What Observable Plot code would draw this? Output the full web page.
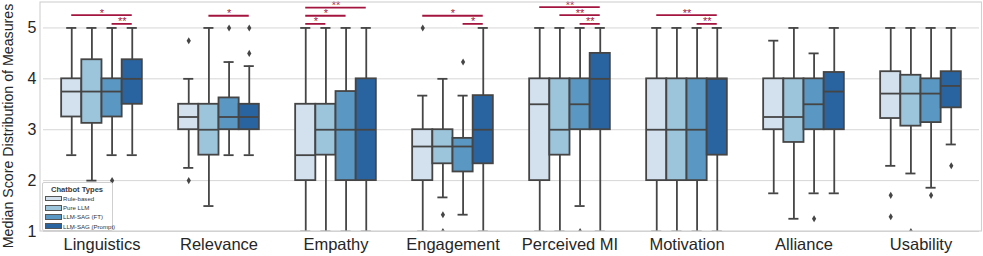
<!DOCTYPE html>
<html>
<head>
<meta charset="utf-8">
<script src="https://cdn.jsdelivr.net/npm/d3@7"></script>
<script src="https://cdn.jsdelivr.net/npm/@observablehq/plot@0.6"></script>
<style>
  html, body { margin: 0; padding: 0; background: white; overflow: hidden; }
  #chart { position: relative; width: 983px; height: 256px; font-family: 'Liberation Sans', Arial, sans-serif; }
  #legend { position: absolute; left: 41.5px; top: 181.5px; width: 71px; height: 49px; box-sizing: border-box;
    border: 1px solid #cfcfcf; border-radius: 2px; background: rgba(255,255,255,0.8); padding: 2px 2px 0 2px; }
  #legend .title { font-size: 7.6px; font-weight: bold; color: #3a3a3a; text-align: center; line-height: 9px; margin-bottom: 0.5px; }
  #legend .item { display: flex; align-items: center; height: 9.2px; }
  #legend .sw { width: 17px; height: 5.5px; box-sizing: border-box; border: 0.8px solid #555; margin-right: 1.5px; flex: none; }
  #legend .lab { font-size: 6.1px; color: #333; white-space: nowrap; }
</style>
</head>
<body>
<div id="chart"></div>
<script>
const measures = ["Linguistics", "Relevance", "Empathy", "Engagement", "Perceived MI", "Motivation", "Alliance", "Usability"];
const chatbots = ["Rule-based", "Pure LLM", "LLM-SAG (FT)", "LLM-SAG (Prompt)"];
const colors = ["#d3e1ef", "#9cc4da", "#5a97c2", "#2a64a0"];
const yTicks = [1, 2, 3, 4, 5];

// rows: measures, columns: chatbots
const whiskerLow = [
  [2.5, 2.0, 2.5, 2.5],
  [2.25, 1.5, 2.5, 2.5],
  [1, 1, 1, 1],
  [1, 1.67, 1.33, 1],
  [1, 1, 1.5, 1],
  [1, 1, 1, 1],
  [1.75, 1.25, 1.75, 1.75],
  [2.29, 2.14, 1.86, 2.71]
];
const quart1 = [
  [3.25, 3.125, 3.25, 3.5],
  [3.0, 2.5, 3.0, 3.0],
  [2.0, 2.5, 2.0, 2.0],
  [2.0, 2.33, 2.17, 2.33],
  [2.0, 2.5, 3.0, 3.0],
  [2, 2, 2, 2.5],
  [3.0, 2.75, 3.0, 3.0],
  [3.22, 3.07, 3.14, 3.43]
];
const medians = [
  [3.75, 3.75, 3.75, 4.0],
  [3.25, 3.0, 3.25, 3.25],
  [2.5, 3.0, 3.0, 3.0],
  [2.67, 2.67, 2.67, 3.0],
  [3.5, 3.0, 3.5, 4.0],
  [3, 3, 3, 4],
  [3.25, 3.25, 3.5, 3.75],
  [3.71, 3.71, 3.71, 3.86]
];
const quart3 = [
  [4.0, 4.375, 4.0, 4.375],
  [3.5, 3.5, 3.625, 3.5],
  [3.5, 3.5, 3.75, 4.0],
  [3.0, 3.0, 2.83, 3.67],
  [4.0, 4.0, 4.0, 4.5],
  [4, 4, 4, 4],
  [4.0, 4.0, 4.0, 4.125],
  [4.14, 4.07, 4.0, 4.14]
];
const whiskerHigh = [
  [5, 5, 5, 5],
  [4.0, 5, 4.33, 4.25],
  [5, 5, 5, 5],
  [3.67, 4.0, 3.67, 5],
  [5, 5, 5, 5],
  [5, 5, 5, 5],
  [4.75, 5, 4.5, 5],
  [5, 5, 5, 5]
];
// outliers: measure, chatbot, value
const outlierMeasure = ["Linguistics", "Linguistics", "Linguistics", "Relevance", "Relevance", "Relevance", "Relevance", "Relevance",
  "Engagement", "Engagement", "Engagement", "Engagement", "Perceived MI", "Alliance",
  "Usability", "Usability", "Usability", "Usability", "Usability"];
const outlierType = ["Rule-based", "Pure LLM", "LLM-SAG (FT)", "Rule-based", "Rule-based", "LLM-SAG (FT)", "LLM-SAG (Prompt)", "LLM-SAG (Prompt)",
  "Rule-based", "Pure LLM", "Pure LLM", "LLM-SAG (FT)", "LLM-SAG (FT)", "LLM-SAG (FT)",
  "Rule-based", "Rule-based", "Pure LLM", "LLM-SAG (FT)", "LLM-SAG (Prompt)"];
const outlierValue = [1, 1, 2, 4.75, 2, 5, 5, 4.5,
  5, 1.33, 1, 4.33, 1, 1.25,
  1.71, 1.29, 1, 1.71, 2.29];
// significance brackets
const sigMeasure = ["Linguistics", "Linguistics", "Relevance", "Empathy", "Empathy", "Empathy", "Engagement", "Engagement",
  "Perceived MI", "Perceived MI", "Perceived MI", "Motivation", "Motivation"];
const sigFrom = ["Rule-based", "LLM-SAG (FT)", "Pure LLM", "Rule-based", "Rule-based", "Rule-based", "Rule-based", "LLM-SAG (FT)",
  "Rule-based", "Pure LLM", "LLM-SAG (FT)", "Rule-based", "LLM-SAG (FT)"];
const sigTo = ["LLM-SAG (Prompt)", "LLM-SAG (Prompt)", "LLM-SAG (Prompt)", "LLM-SAG (Prompt)", "LLM-SAG (FT)", "Pure LLM", "LLM-SAG (Prompt)", "LLM-SAG (Prompt)",
  "LLM-SAG (Prompt)", "LLM-SAG (Prompt)", "LLM-SAG (Prompt)", "LLM-SAG (Prompt)", "LLM-SAG (Prompt)"];
const sigLevel = [5.25, 5.08, 5.24, 5.40, 5.24, 5.08, 5.24, 5.08, 5.41, 5.25, 5.08, 5.25, 5.08];
const sigLabel = ["*", "**", "*", "**", "*", "*", "*", "*", "**", "**", "**", "**", "**"];

const boxes = measures.flatMap((m, i) => chatbots.map((c, j) => ({
  measure: m, type: c, idx: j,
  lo: whiskerLow[i][j], q1: quart1[i][j], med: medians[i][j], q3: quart3[i][j], hi: whiskerHigh[i][j]
})));
const outliers = outlierValue.map((v, k) => ({measure: outlierMeasure[k], idx: chatbots.indexOf(outlierType[k]), value: v}));
const sigs = sigLevel.map((v, k) => ({measure: sigMeasure[k], a: chatbots.indexOf(sigFrom[k]), b: chatbots.indexOf(sigTo[k]), level: v, label: sigLabel[k]}));

const lineColor = "#454545";
const sigColor = "#a3153f";
const sw = 1.8;
const thinDiamond = {
  draw(context, size) {
    const h = Math.sqrt(size) * 0.62, w = h * 0.6;
    context.moveTo(0, -h); context.lineTo(w, 0); context.lineTo(0, h); context.lineTo(-w, 0); context.closePath();
  }
};

const plot = Plot.plot({
  width: 983, height: 256,
  marginLeft: 40, marginRight: 1.5, marginTop: 2, marginBottom: 25,
  style: {fontFamily: "'Liberation Sans', Arial, sans-serif", color: "#262626", background: "white", overflow: "visible"},
  fx: {domain: measures, padding: 0},
  x: {domain: [-1.4, 4.4], axis: null},
  y: {domain: [1, 5.5]},
  color: {domain: chatbots, range: colors},
  marks: [
    Plot.ruleY(yTicks, {stroke: "#d6d6d6", strokeWidth: 1}),
    Plot.ruleX(boxes, {fx: "measure", x: "idx", y1: "q3", y2: "hi", stroke: lineColor, strokeWidth: sw}),
    Plot.ruleX(boxes, {fx: "measure", x: "idx", y1: "lo", y2: "q1", stroke: lineColor, strokeWidth: sw}),
    Plot.ruleY(boxes, {fx: "measure", y: "hi", x1: d => d.idx - 0.25, x2: d => d.idx + 0.25, stroke: lineColor, strokeWidth: sw, clip: true}),
    Plot.ruleY(boxes, {fx: "measure", y: "lo", x1: d => d.idx - 0.25, x2: d => d.idx + 0.25, stroke: lineColor, strokeWidth: sw, clip: true}),
    Plot.rect(boxes, {fx: "measure", x1: d => d.idx - 0.5, x2: d => d.idx + 0.5, y1: "q1", y2: "q3", fill: "type", stroke: lineColor, strokeWidth: sw}),
    Plot.ruleY(boxes, {fx: "measure", y: "med", x1: d => d.idx - 0.5, x2: d => d.idx + 0.5, stroke: lineColor, strokeWidth: sw}),
    Plot.dot(outliers, {fx: "measure", x: "idx", y: "value", symbol: thinDiamond, r: 3.2, fill: lineColor, stroke: "none", clip: true}),
    Plot.ruleY(sigs, {fx: "measure", y: "level", x1: "a", x2: "b", stroke: sigColor, strokeWidth: 1.8}),
    Plot.text(sigs, {fx: "measure", x: d => (d.a + d.b) / 2, y: "level", text: "label", fill: sigColor, fontSize: 11, lineAnchor: "bottom", dy: 1.5}),
    Plot.axisY({ticks: yTicks, tickSize: 0, tickPadding: 7, fontSize: 16, label: null, tickFormat: d => String(d)}),
    Plot.axisFx({anchor: "bottom", tickSize: 0, tickPadding: 7, fontSize: 16.5, label: null})
  ]
});

const chart = document.getElementById("chart");
chart.appendChild(plot);

// frame (axes spines) and y-axis title, positioned from the plot's own scales
const fxS = plot.scale("fx"), yS = plot.scale("y");
const svg = d3.select(plot);
const frameLeft = fxS.range[0], frameRight = fxS.range[1];
const frameTop = Math.min(...yS.range), frameBottom = Math.max(...yS.range);
svg.append("rect")
  .attr("x", frameLeft).attr("y", frameTop).attr("width", frameRight - frameLeft).attr("height", frameBottom - frameTop)
  .attr("fill", "none").attr("stroke", "#d0d0d0").attr("stroke-width", 1.1);
svg.append("text")
  .attr("transform", `translate(13,126) rotate(-90)`)
  .attr("text-anchor", "middle")
  .attr("font-size", 14.2)
  .attr("fill", "#262626")
  .text("Median Score Distribution of Measures");

// legend
const legend = document.createElement("div");
legend.id = "legend";
legend.innerHTML = `<div class="title">Chatbot Types</div>` +
  chatbots.map((c, i) => `<div class="item"><div class="sw" style="background:${colors[i]}"></div><div class="lab">${c}</div></div>`).join("");
chart.appendChild(legend);
</script>
</body>
</html>
